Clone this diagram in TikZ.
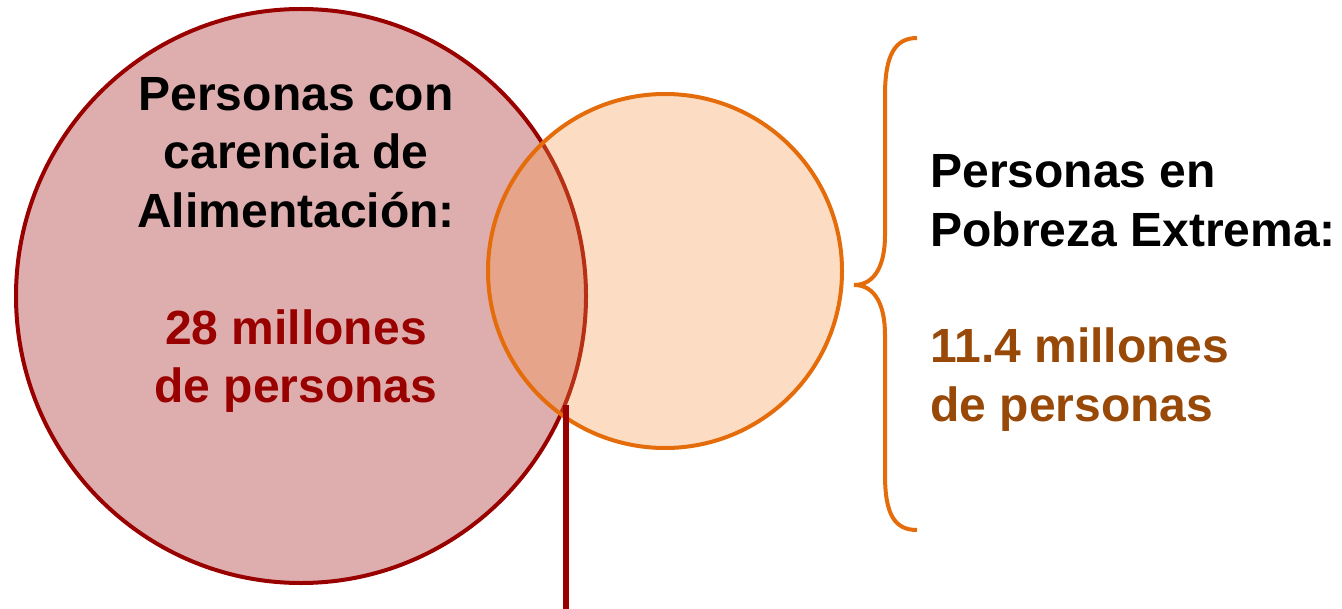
\documentclass[tikz,border=0pt]{standalone}
\usepackage{fontspec}
\setmainfont{Liberation Sans}
\usepackage{tikz}

\definecolor{rojo}{HTML}{990000}
\definecolor{naranja}{HTML}{F79646}
\definecolor{naranjaborde}{HTML}{E46C0A}
\definecolor{cafe}{HTML}{984807}

\begin{document}
\begin{tikzpicture}[x=0.5pt,y=-0.5pt,font=\fontsize{24}{29.2}\selectfont\bfseries]

	\tikzstyle{circrojo}=[draw=rojo,fill=rojo,fill opacity=.32,draw opacity=1,line width=2pt]
	\tikzstyle{circnaranja}=[draw=naranjaborde,fill=naranja,fill opacity=.32,draw opacity=1,line width=2pt]
	\tikzstyle{llave}=[draw=naranjaborde,line width=2pt]
	\tikzstyle{texto}=[inner sep=0pt,text opacity=1]

	\useasboundingbox (0,0) rectangle (1342,609);

	% los dos conjuntos
	\path[circrojo] (301,296) ellipse [x radius=285,y radius=287];
	\path[circnaranja] (665,271) circle [radius=177];

	% linea desde el cruce inferior
	\coordinate (cruce) at (566,405);
	\coordinate (abajo) at (566,609);
	\draw[rojo,line width=3pt] (cruce) -- (abajo);

	% llave
	\draw[llave] (917,38) .. controls (895,38) and (885,55) .. (885,95) -- (885,235)
		.. controls (885,265) and (875,285) .. (854,285)
		.. controls (875,285) and (885,305) .. (885,335) -- (885,475)
		.. controls (885,515) and (895,530) .. (917,530);

	\node[texto,align=center] (carencia) at (296,245)
		{Personas con\\carencia de\\Alimentación:\\[29.2pt]\textcolor{rojo}{28 millones}\\\textcolor{rojo}{de personas}};
	\node[texto,align=left,anchor=west] (pobreza) at (930,293)
		{Personas en\\Pobreza Extrema:\\[29.2pt]\textcolor{cafe}{11.4 millones}\\\textcolor{cafe}{de personas}};
\end{tikzpicture}
\end{document}
